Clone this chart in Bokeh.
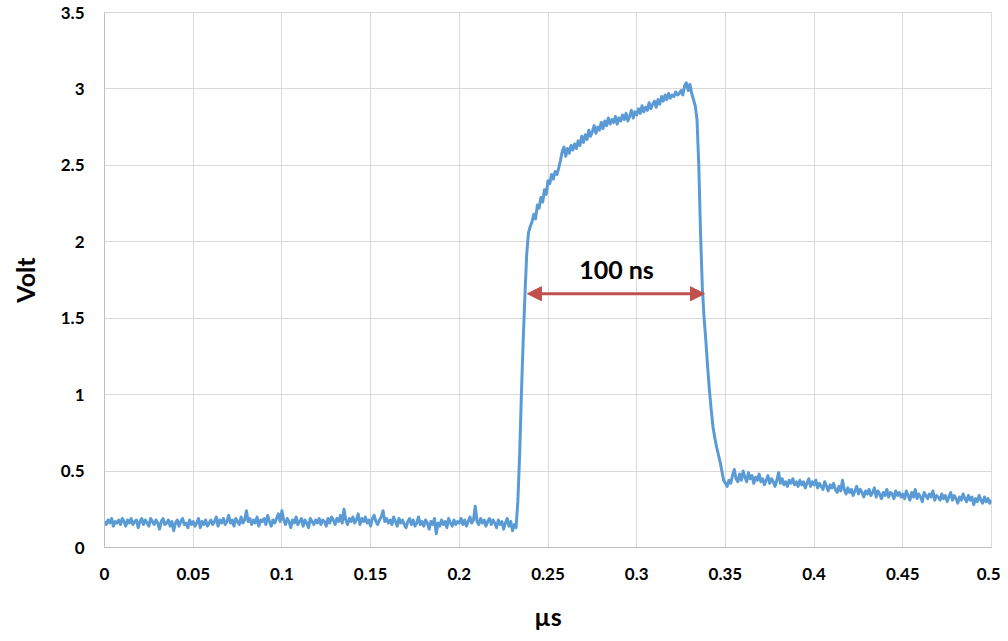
import numpy as np
from bokeh.plotting import figure
from bokeh.models import Range1d, FixedTicker, CustomJSTickFormatter, Arrow, NormalHead, Label
from bokeh.embed import file_html
from bokeh.resources import INLINE

# ---- data ----
dt_us = 0.001  # sample spacing, µs
volt_baseline = [
    .17,.15,.18,.16,.19,.14,.17,.16,.18,.15,.19,.17,.14,.18,.16,.19,.15,.17,.18,.13,
    .17,.19,.15,.18,.16,.14,.19,.17,.15,.18,.16,.12,.17,.19,.15,.16,.18,.14,.17,.11,
    .16,.18,.14,.17,.19,.15,.16,.13,.18,.15,.17,.14,.16,.19,.13,.17,.15,.18,.14,.16,
    .18,.15,.17,.20,.14,.18,.16,.19,.15,.17,.21,.16,.18,.14,.19,.17,.15,.20,.16,.18,
    .24,.17,.19,.15,.18,.16,.20,.14,.18,.17,.19,.15,.21,.17,.14,.18,.16,.19,.22,.17,
    .24,.18,.15,.19,.17,.13,.18,.16,.20,.15,.17,.19,.14,.18,.16,.13,.19,.17,.15,.18,
    .16,.19,.15,.18,.17,.14,.19,.16,.20,.18,.15,.19,.17,.21,.16,.25,.18,.15,.19,.17,
    .20,.16,.18,.22,.15,.19,.17,.20,.16,.18,.14,.19,.21,.17,.15,.18,.20,.24,.17,.19,
    .16,.18,.15,.20,.17,.14,.19,.16,.18,.15,.13,.17,.19,.15,.18,.14,.16,.20,.15,.17,
    .14,.18,.16,.12,.17,.15,.19,.09,.16,.14,.18,.15,.17,.13,.19,.16,.14,.18,.15,.17,
    .16,.19,.15,.18,.14,.17,.20,.16,.18,.27,.17,.15,.19,.16,.18,.14,.17,.19,.15,.18,
    .16,.13,.18,.15,.17,.12,.16,.19,.14,.17,.11,.15,.13,
]
volt_rise = [.30,.60,1.00,1.35,1.65,1.92,2.06,2.10]
volt_pulse = [
    2.13,2.18,2.15,2.24,2.22,2.29,2.26,2.34,2.31,2.40,
    2.38,2.44,2.41,2.46,2.44,2.48,2.53,2.59,2.62,2.56,
    2.61,2.58,2.63,2.60,2.64,2.61,2.66,2.63,2.69,2.65,
    2.70,2.67,2.73,2.69,2.72,2.76,2.71,2.75,2.73,2.78,
    2.74,2.79,2.76,2.81,2.77,2.80,2.78,2.82,2.77,2.81,
    2.79,2.83,2.80,2.84,2.79,2.82,2.86,2.81,2.85,2.83,
    2.87,2.84,2.89,2.85,2.88,2.86,2.91,2.87,2.90,2.92,
    2.88,2.93,2.90,2.95,2.92,2.96,2.93,2.97,2.94,2.96,
    2.95,2.98,2.96,2.97,2.99,2.96,3.02,3.04,2.99,3.03,
    2.97,2.93,2.89,2.80,
]
volt_fall = [2.50,2.05,1.70,1.50,1.35,1.18,1.03,0.90,0.79,0.72,0.66,0.61,0.56,0.50,0.44,0.42]
volt_tail = [
    .40,.44,.42,.47,.51,.45,.43,.48,.44,.50,.46,.43,.49,.45,.47,.42,.46,.44,.48,.43,
    .45,.41,.44,.47,.42,.45,.43,.40,.44,.49,.42,.45,.41,.43,.40,.44,.42,.45,.41,.43,
    .40,.44,.41,.43,.39,.42,.45,.40,.43,.41,.44,.39,.42,.40,.38,.43,.40,.37,.41,.39,
    .42,.38,.36,.40,.37,.44,.38,.35,.39,.36,.38,.34,.37,.40,.35,.38,.36,.33,.37,.35,
    .38,.34,.36,.39,.33,.37,.35,.32,.36,.34,.38,.33,.36,.35,.32,.37,.34,.36,.33,.35,
    .32,.37,.34,.31,.36,.33,.38,.32,.35,.33,.30,.36,.34,.32,.35,.33,.37,.31,.34,.33,
    .31,.35,.32,.34,.30,.33,.36,.31,.34,.32,.29,.33,.31,.35,.32,.30,.34,.31,.33,.28,
    .32,.30,.34,.31,.29,.33,.30,.32,.29,.31,
]
volt = volt_baseline + volt_rise + volt_pulse + volt_fall + volt_tail
time_us = np.arange(len(volt)) * dt_us

x_ticks = [0, 0.05, 0.1, 0.15, 0.2, 0.25, 0.3, 0.35, 0.4, 0.45, 0.5]
y_ticks = [0, 0.5, 1, 1.5, 2, 2.5, 3, 3.5]

pulse_start = 0.2384
pulse_end = 0.3382
arrow_level = 1.66
width_label = "100 ns"
label_x = 0.2886
label_y = 1.82

FONT = "Lato"

p = figure(width=1000, height=633, output_backend="svg", toolbar_location=None,
           x_range=Range1d(0, 0.5), y_range=Range1d(0, 3.5),
           min_border_left=104, min_border_right=9, min_border_top=12, min_border_bottom=86)
p.background_fill_color = "white"
p.border_fill_color = "white"
p.outline_line_color = "#D9D9D9"

p.line(time_us, volt, line_color="#5B9BD5", line_width=3, line_join="round")

p.add_layout(Arrow(start=NormalHead(size=14, fill_color="#C0504D", line_color="#C0504D"),
                   end=NormalHead(size=14, fill_color="#C0504D", line_color="#C0504D"),
                   x_start=pulse_start, x_end=pulse_end, y_start=arrow_level, y_end=arrow_level,
                   line_color="#C0504D", line_width=3))
p.add_layout(Label(x=label_x, y=label_y, text=width_label, text_align="center",
                   text_baseline="middle", text_font=FONT, text_font_style="bold",
                   text_font_size="25px", text_color="black"))

fmt = CustomJSTickFormatter(code="return parseFloat(tick.toFixed(2)).toString();")
for ax, ticks in ((p.xaxis[0], x_ticks), (p.yaxis[0], y_ticks)):
    ax.ticker = FixedTicker(ticks=ticks)
    ax.formatter = fmt
    ax.major_tick_line_color = None
    ax.minor_tick_line_color = None
    ax.major_tick_out = 0
    ax.major_tick_in = 0
    ax.axis_line_color = "#BFBFBF"
    ax.major_label_text_font = FONT
    ax.major_label_text_font_style = "bold"
    ax.major_label_text_font_size = "17px"
    ax.major_label_text_color = "black"
    ax.major_label_standoff = 20
    ax.axis_label_text_font = FONT
    ax.axis_label_text_font_style = "bold"
    ax.axis_label_text_font_size = "25px"
    ax.axis_label_text_color = "black"
    ax.axis_label_standoff = 18

p.xaxis.axis_label = "µs"
p.yaxis.axis_label = "Volt"

p.xgrid.ticker = FixedTicker(ticks=x_ticks)
p.ygrid.ticker = FixedTicker(ticks=y_ticks)
p.grid.grid_line_color = "#D9D9D9"
p.grid.grid_line_width = 1

open("out.html", "w").write(file_html(p, INLINE))
